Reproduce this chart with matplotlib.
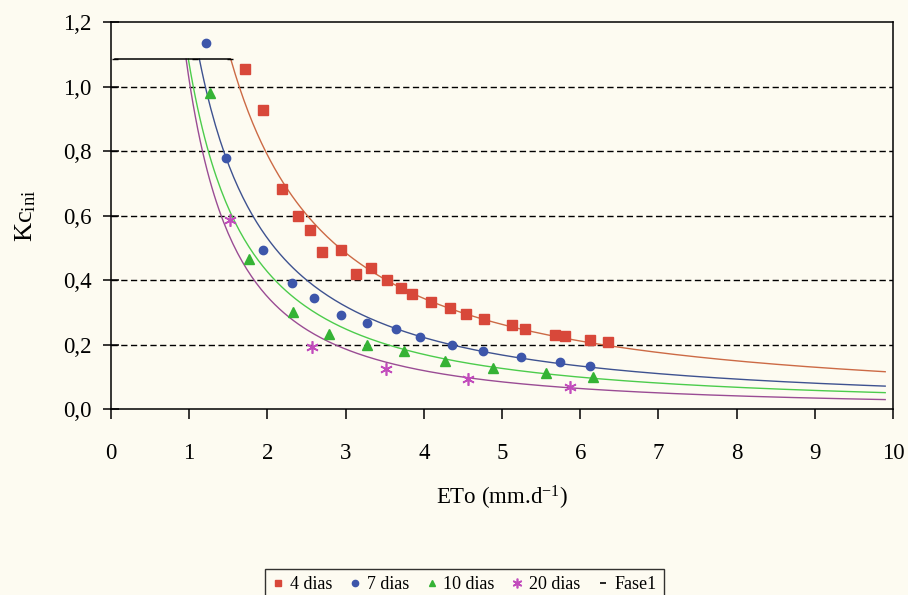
import numpy as np
from matplotlib import pyplot as plt
from matplotlib.lines import Line2D

plt.rcParams['font.family'] = ['Liberation Serif', 'DejaVu Serif']
plt.rcParams['mathtext.fontset'] = 'custom'
plt.rcParams['mathtext.rm'] = 'Liberation Serif'
plt.rcParams['mathtext.it'] = 'Liberation Serif:italic'

# medicoes de Kc ini por intervalo de molhamento
x4 = [1.72, 1.95, 2.19, 2.39, 2.54, 2.70, 2.94, 3.13, 3.32, 3.53, 3.71,
      3.85, 4.09, 4.33, 4.54, 4.77, 5.13, 5.30, 5.68, 5.80, 6.13, 6.35]
y4 = [1.053, 0.927, 0.682, 0.598, 0.555, 0.488, 0.493, 0.419, 0.436, 0.399, 0.375,
      0.356, 0.333, 0.313, 0.295, 0.279, 0.260, 0.248, 0.229, 0.226, 0.213, 0.207]

x7 = [1.21, 1.47, 1.95, 2.31, 2.60, 2.94, 3.28, 3.65, 3.95, 4.36, 4.76, 5.24, 5.74, 6.13]
y7 = [1.134, 0.779, 0.493, 0.392, 0.345, 0.291, 0.268, 0.247, 0.222, 0.199, 0.179, 0.160, 0.145, 0.134]

x10 = [1.27, 1.77, 2.33, 2.79, 3.28, 3.75, 4.27, 4.88, 5.56, 6.17]
y10 = [0.979, 0.466, 0.300, 0.233, 0.199, 0.181, 0.149, 0.127, 0.112, 0.098]

x20 = [1.52, 2.57, 3.52, 4.57, 5.87]
y20 = [0.586, 0.191, 0.123, 0.092, 0.069]

# fase inicial (patamar)
fase1_x = [0.05, 1.07, 1.52]
fase1_y = [1.085, 1.085, 1.085]

# ajustes potenciais Kc = a * ETo^b
fit_a = [1.81, 1.266, 1.07, 1.02]
fit_b = [-1.20, -1.257, -1.33, -1.55]
eto_max = 9.9

labels = ['4 dias', '7 dias', '10 dias', '20 dias']
mk_colors = ['#d8483a', '#3d56aa', '#35b335', '#c24cbc']
ln_colors = ['#cc6a45', '#3e5290', '#4ccc4c', '#9a4c94']
markers = ['s', 'o', '^', (6, 2, 0)]
msizes = [6.5, 6, 6.5, 9]

bg = '#fdfbf1'
fig, ax = plt.subplots(figsize=(9.08, 5.95), dpi=100)
fig.patch.set_facecolor(bg)
ax.set_facecolor(bg)
fig.subplots_adjust(left=0.1222, right=0.9835, bottom=0.3126, top=0.963)

for a, b, c in zip(fit_a, fit_b, ln_colors):
    x0 = (a / fase1_y[0]) ** (1 / -b)
    xs = np.linspace(x0, eto_max, 300)
    ax.plot(xs, a * xs ** b, color=c, lw=1.0, zorder=2)

ax.plot(fase1_x, fase1_y, color='black', lw=1.1, marker='_', ms=5, zorder=3)

series = [(x4, y4), (x7, y7), (x10, y10), (x20, y20)]
for (xv, yv), m, c, s in zip(series, markers, mk_colors, msizes):
    if m == (6, 2, 0):
        ax.plot(xv, yv, ls='none', marker=m, ms=s, mec=c, mew=1.2, zorder=4)
    else:
        ax.plot(xv, yv, ls='none', marker=m, ms=s, color=c, mec=c, zorder=4)

ax.set_xlim(0, 10)
ax.set_ylim(0, 1.2)
ax.set_xticks(range(11))
ax.set_yticks([0.0, 0.2, 0.4, 0.6, 0.8, 1.0, 1.2])
ax.set_yticklabels(['0,0', '0,2', '0,4', '0,6', '0,8', '1,0', '1,2'])
for gy in [0.2, 0.4, 0.6, 0.8, 1.0]:
    ax.axhline(gy, color='black', lw=1.0, ls=(0, (4.5, 2.5)), zorder=1)

for sp in ax.spines.values():
    sp.set_linewidth(1.1)
ax.tick_params(axis='x', direction='out', length=7, width=1.1, pad=17.5, labelsize=16.5)
ax.tick_params(axis='y', direction='inout', length=12, width=1.1, pad=8, labelsize=16.5)

ax.set_xlabel('ETo (mm.d$^{\\mathrm{-1}}$)', fontsize=16.5, labelpad=14)
ax.set_ylabel('Kc$_{\\mathrm{ini}}$', fontsize=19, labelpad=18)

handles = []
for m, c, s in zip(markers, mk_colors, msizes):
    if m == (6, 2, 0):
        handles.append(Line2D([], [], ls='none', marker=m, ms=7, mec=c, mew=1.2))
    else:
        handles.append(Line2D([], [], ls='none', marker=m, ms=4.5, color=c))
handles.append(Line2D([], [], ls='none', marker='_', ms=5, color='black', mew=1.2))
leg = fig.legend(handles, labels + ['Fase1'], loc='upper center',
                 bbox_to_anchor=(0.5115, 1 - 560 / 595), ncol=5, fontsize=13,
                 frameon=True, fancybox=False, edgecolor='black', facecolor=bg,
                 handlelength=0.7, handletextpad=0.3, columnspacing=0.9,
                 borderpad=0.4)
leg.get_frame().set_linewidth(1.0)

fig.savefig('out.png', dpi=100, facecolor=bg)
